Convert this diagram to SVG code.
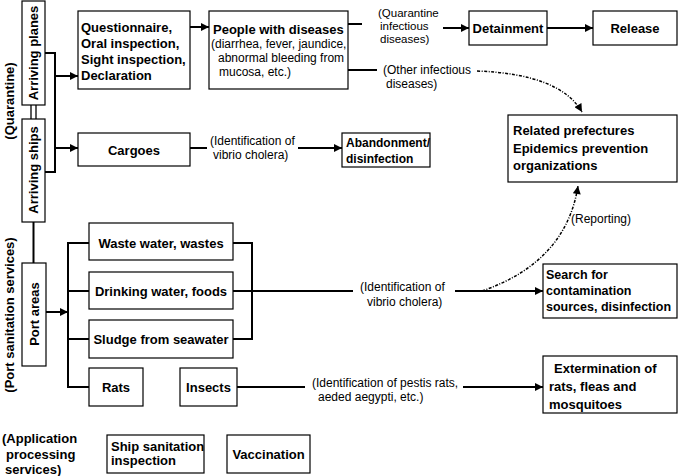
<svg xmlns="http://www.w3.org/2000/svg" width="678" height="476" viewBox="0 0 678 476">
<style>
.box{fill:#fff;stroke:#000;stroke-width:1.2}
.b{font-family:"Liberation Sans",Arial,sans-serif;font-weight:bold;font-size:13px;fill:#000}
.r{font-family:"Liberation Sans",Arial,sans-serif;font-size:12px;fill:#000}
.s{font-size:11.5px}
.m{text-anchor:middle}
.ln{fill:none;stroke:#000;stroke-width:2}
.dl{fill:none;stroke:#000;stroke-width:1.5;stroke-dasharray:3 1.5 1 1.5}
</style>
<defs>
<marker id="ah" viewBox="0 0 10 10" refX="10" refY="5" markerWidth="9" markerHeight="8" markerUnits="userSpaceOnUse" orient="auto"><path d="M0,0 L10,5 L0,10 z" fill="#000"/></marker>
</defs>
<rect width="678" height="476" fill="#fff"/>

<g id="connectors">
<path class="ln" d="M45,53 H55 V172 H45"/>
<line class="ln" x1="55" y1="76" x2="78" y2="76" marker-end="url(#ah)"/>
<line class="ln" x1="55" y1="148" x2="78" y2="148" marker-end="url(#ah)"/>
<line x1="31" y1="105" x2="31" y2="119" stroke="#000" stroke-width="1.3"/>
<line x1="36" y1="105" x2="36" y2="119" stroke="#000" stroke-width="1.3"/>
<line class="ln" x1="33.5" y1="222" x2="33.5" y2="263"/>
<line class="ln" x1="190" y1="27" x2="209" y2="27" marker-end="url(#ah)"/>
<line class="ln" x1="348" y1="24" x2="362" y2="24"/>
<line class="ln" x1="443" y1="28" x2="469" y2="28" marker-end="url(#ah)"/>
<line class="ln" x1="547" y1="28" x2="593" y2="28" marker-end="url(#ah)"/>
<line class="ln" x1="348" y1="70" x2="377" y2="70"/>
<path class="dl" d="M477,71 Q560,74 582,112" marker-end="url(#ah)"/>
<line class="ln" x1="190" y1="148" x2="207" y2="148"/>
<line class="ln" x1="298" y1="148" x2="342" y2="148" marker-end="url(#ah)"/>
<line class="ln" x1="46" y1="312" x2="68" y2="312" marker-end="url(#ah)"/>
<path class="ln" d="M89,243 H68 V387 H89"/>
<line class="ln" x1="68" y1="291" x2="89" y2="291"/>
<line class="ln" x1="68" y1="339" x2="89" y2="339"/>
<path class="ln" d="M233,243 H252 V339 H233"/>
<line class="ln" x1="233" y1="291" x2="353" y2="291"/>
<line class="ln" x1="455" y1="291" x2="543" y2="291" marker-end="url(#ah)"/>
<path class="dl" d="M482,291 Q566,262 578,186" marker-end="url(#ah)"/>
<line class="ln" x1="237" y1="387" x2="305" y2="387"/>
<line class="ln" x1="463" y1="387" x2="543" y2="387" marker-end="url(#ah)"/>
</g>

<text class="b m" transform="translate(14,101) rotate(-90)">(Quarantine)</text>
<text class="b m" transform="translate(14,315) rotate(-90)">(Port sanitation services)</text>

<g id="n-planes"><rect class="box" x="22" y="1" width="23" height="104"/><text class="b m" transform="translate(38,53) rotate(-90)">Arriving planes</text></g>
<g id="n-ships"><rect class="box" x="22" y="119" width="23" height="103"/><text class="b m" transform="translate(38,170) rotate(-90)">Arriving ships</text></g>
<g id="n-port"><rect class="box" x="22" y="263" width="24" height="103"/><text class="b m" transform="translate(38.5,314) rotate(-90)">Port areas</text></g>

<g id="n-quest"><rect class="box" x="78" y="11" width="112" height="78"/>
<text class="b" x="81" y="32">Questionnaire,</text><text class="b" x="81" y="48">Oral inspection,</text><text class="b" x="81" y="64">Sight inspection,</text><text class="b" x="81" y="80">Declaration</text></g>
<g id="n-people"><rect class="box" x="209" y="11" width="139" height="78"/>
<text class="b" x="213" y="34">People with diseases</text>
<text class="r" x="211" y="48">(diarrhea, fever, jaundice,</text>
<text class="r" x="218" y="62">abnormal bleeding from</text>
<text class="r" x="219" y="76">mucosa, etc.)</text></g>
<g id="l-quar"><text class="r s" x="378" y="17">(Quarantine</text><text class="r s" x="380" y="30">infectious</text><text class="r s" x="380" y="43">diseases)</text></g>
<g id="l-other"><text class="r" x="383" y="74">(Other infectious</text><text class="r" x="386" y="88">diseases)</text></g>
<g id="n-detain"><rect class="box" x="469" y="11" width="78" height="34"/><text class="b m" x="508" y="33">Detainment</text></g>
<g id="n-release"><rect class="box" x="593" y="11" width="84" height="34"/><text class="b m" x="635" y="33">Release</text></g>
<g id="n-related"><rect class="box" x="508" y="115" width="169" height="67"/>
<text class="b" x="513" y="135">Related prefectures</text><text class="b" x="513" y="153">Epidemics prevention</text><text class="b" x="513" y="170">organizations</text></g>
<g id="n-cargoes"><rect class="box" x="78" y="133" width="112" height="33"/><text class="b m" x="134" y="155">Cargoes</text></g>
<g id="l-cargo"><text class="r" x="210" y="145">(Identification of</text><text class="r" x="213" y="159">vibrio cholera)</text></g>
<g id="n-abandon"><rect class="box" x="342" y="133" width="88" height="34"/><text class="b" x="346" y="147" style="font-size:12px">Abandonment/</text><text class="b" x="346" y="163" style="font-size:12px">disinfection</text></g>

<g id="n-waste"><rect class="box" x="89" y="223" width="144" height="37"/><text class="b m" x="161" y="248">Waste water, wastes</text></g>
<g id="n-drink"><rect class="box" x="89" y="272" width="144" height="37"/><text class="b m" x="161" y="296">Drinking water, foods</text></g>
<g id="n-sludge"><rect class="box" x="89" y="320" width="144" height="38"/><text class="b m" x="161" y="344">Sludge from seawater</text></g>
<g id="n-rats"><rect class="box" x="89" y="368" width="54" height="38"/><text class="b m" x="116" y="392">Rats</text></g>
<g id="n-insects"><rect class="box" x="180" y="368" width="57" height="38"/><text class="b m" x="208.5" y="392">Insects</text></g>
<g id="l-vibrio"><text class="r" x="360" y="291">(Identification of</text><text class="r" x="367" y="306">vibrio cholera)</text></g>
<text class="r" x="571" y="223">(Reporting)</text>
<g id="n-search"><rect class="box" x="543" y="264" width="134" height="54"/>
<text class="b" x="546" y="279" style="font-size:12.5px">Search for</text><text class="b" x="546" y="295" style="font-size:12.5px">contamination</text><text class="b" x="546" y="311" style="font-size:12.5px">sources, disinfection</text></g>
<g id="l-pestis"><text class="r" x="312" y="387">(Identification of pestis rats,</text><text class="r" x="318" y="401">aeded aegypti, etc.)</text></g>
<g id="n-exterm"><rect class="box" x="543" y="356" width="134" height="57"/>
<text class="b" x="554" y="373">Extermination of</text><text class="b" x="549" y="391">rats, fleas and</text><text class="b" x="549" y="409">mosquitoes</text></g>

<g id="l-app"><text class="b" x="2" y="443">(Application</text><text class="b" x="6" y="459">processing</text><text class="b" x="5" y="474">services)</text></g>
<g id="n-ship"><rect class="box" x="107" y="435" width="97" height="38"/><text class="b" x="111" y="451">Ship sanitation</text><text class="b" x="111" y="465">inspection</text></g>
<g id="n-vacc"><rect class="box" x="227" y="435" width="83" height="38"/><text class="b m" x="268.5" y="459">Vaccination</text></g>
</svg>
